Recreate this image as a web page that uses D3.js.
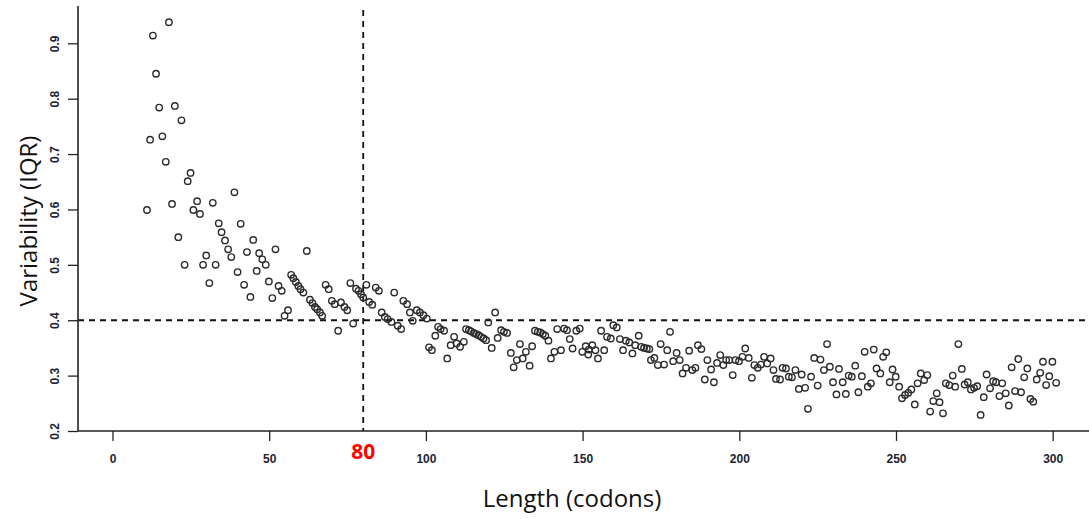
<!DOCTYPE html>
<html>
<head>
<meta charset="utf-8">
<script src="https://cdn.jsdelivr.net/npm/d3@7"></script>
<style>
  html, body { margin: 0; padding: 0; background: #fff; }
  svg { display: block; }
</style>
</head>
<body>
<div id="chart"></div>
<script>
// Length (codons) of each point
const lengths = [
  11.0, 12.0, 12.9, 13.9, 14.9, 15.9, 17.0, 18.0, 19.0, 19.9, 21.0, 22.0, 23.0, 24.0, 24.9, 25.8,
  27.0, 27.9, 28.9, 29.9, 30.9, 32.0, 32.9, 33.9, 34.8, 35.9, 36.9, 37.9, 38.9, 39.9, 40.9, 42.0,
  42.9, 44.0, 44.9, 46.0, 46.8, 47.8, 48.9, 49.9, 51.0, 52.0, 53.0, 54.0, 54.9, 56.0, 57.0, 57.7,
  58.5, 59.3, 60.0, 60.9, 62.0, 63.0, 63.8, 64.6, 65.3, 66.2, 66.9, 68.0, 69.0, 70.0, 70.9, 72.0,
  72.9, 74.0, 74.9, 75.9, 76.8, 77.7, 78.5, 79.3, 80.0, 81.0, 81.9, 82.9, 84.0, 85.0, 85.9, 86.9,
  87.8, 89.0, 89.9, 91.0, 92.1, 92.8, 94.0, 94.9, 95.8, 97.1, 98.1, 99.2, 100.3, 101.0, 101.9, 103.0,
  103.9, 104.7, 105.8, 106.8, 107.9, 109.0, 109.8, 110.9, 112.1, 112.8, 113.7, 114.4, 115.3, 116.0, 116.8, 117.6,
  118.4, 119.2, 119.9, 121.0, 122.1, 122.9, 124.0, 124.9, 125.9, 127.1, 128.0, 129.0, 130.0, 130.9, 131.9, 133.1,
  133.9, 134.8, 135.7, 136.5, 137.3, 138.1, 139.1, 139.9, 141.0, 141.9, 143.1, 144.1, 145.0, 145.9, 146.8, 148.0,
  149.1, 149.9, 151.0, 151.8, 152.0, 153.1, 154.1, 154.9, 155.9, 156.9, 157.8, 159.0, 159.8, 160.9, 161.9, 162.9,
  163.8, 164.9, 165.9, 166.8, 167.9, 168.7, 169.6, 170.5, 171.3, 171.8, 172.9, 174.0, 174.9, 176.0, 177.0, 177.9,
  178.9, 180.0, 181.0, 181.9, 183.0, 184.0, 185.0, 186.0, 186.8, 187.9, 189.0, 189.8, 191.0, 191.9, 192.9, 193.9,
  194.9, 195.8, 196.8, 197.9, 198.8, 199.9, 201.0, 201.9, 203.0, 204.0, 204.8, 205.9, 206.9, 207.9, 208.9, 210.0,
  210.9, 211.7, 213.0, 213.8, 214.9, 215.8, 216.8, 217.9, 219.0, 219.9, 221.0, 221.9, 222.9, 223.9, 225.0, 225.9,
  227.0, 228.0, 228.9, 229.9, 231.0, 231.8, 233.0, 234.0, 234.9, 235.9, 237.0, 238.0, 239.1, 240.0, 241.0, 242.0,
  242.9, 243.8, 245.0, 245.9, 246.9, 248.0, 248.9, 249.9, 251.0, 251.9, 252.9, 253.9, 254.9, 256.0, 256.9, 257.9,
  259.0, 260.0, 260.9, 261.9, 263.0, 263.9, 265.0, 265.9, 267.0, 268.1, 268.9, 269.9, 271.0, 271.9, 272.9, 273.9,
  274.9, 275.9, 277.0, 278.0, 278.9, 280.0, 281.0, 281.9, 283.0, 283.9, 285.0, 286.0, 286.9, 288.0, 289.0, 289.9,
  290.9, 291.9, 292.9, 293.8, 294.9, 296.0, 296.9, 297.9, 298.9, 299.9, 301.1
];

// Variability (IQR) of each point, same order
const iqr = [
  0.599, 0.726, 0.914, 0.845, 0.784, 0.732, 0.686, 0.938, 0.610, 0.787, 0.550, 0.761, 0.500, 0.651, 0.666, 0.599,
  0.615, 0.592, 0.500, 0.517, 0.467, 0.612, 0.500, 0.575, 0.559, 0.544, 0.528, 0.514, 0.631, 0.487, 0.574, 0.464,
  0.523, 0.442, 0.545, 0.489, 0.521, 0.510, 0.500, 0.470, 0.440, 0.528, 0.462, 0.453, 0.408, 0.418, 0.482, 0.476,
  0.469, 0.462, 0.456, 0.450, 0.525, 0.437, 0.431, 0.424, 0.420, 0.414, 0.408, 0.464, 0.456, 0.435, 0.429, 0.381,
  0.432, 0.424, 0.418, 0.467, 0.394, 0.457, 0.453, 0.447, 0.441, 0.464, 0.433, 0.428, 0.459, 0.453, 0.414, 0.406,
  0.402, 0.397, 0.450, 0.390, 0.384, 0.435, 0.429, 0.414, 0.399, 0.418, 0.414, 0.409, 0.403, 0.351, 0.346, 0.372,
  0.388, 0.384, 0.381, 0.331, 0.355, 0.370, 0.358, 0.352, 0.361, 0.384, 0.382, 0.380, 0.377, 0.375, 0.373, 0.370,
  0.367, 0.364, 0.396, 0.350, 0.414, 0.368, 0.382, 0.379, 0.377, 0.341, 0.315, 0.328, 0.357, 0.331, 0.343, 0.318,
  0.353, 0.381, 0.379, 0.378, 0.375, 0.372, 0.363, 0.331, 0.343, 0.384, 0.346, 0.385, 0.382, 0.366, 0.349, 0.381,
  0.385, 0.343, 0.353, 0.338, 0.347, 0.355, 0.346, 0.331, 0.381, 0.346, 0.370, 0.367, 0.391, 0.387, 0.366, 0.346,
  0.363, 0.360, 0.340, 0.355, 0.372, 0.352, 0.350, 0.349, 0.348, 0.328, 0.332, 0.319, 0.357, 0.320, 0.346, 0.379,
  0.326, 0.341, 0.328, 0.304, 0.314, 0.345, 0.310, 0.314, 0.355, 0.348, 0.293, 0.328, 0.311, 0.288, 0.323, 0.337,
  0.319, 0.328, 0.328, 0.301, 0.328, 0.326, 0.334, 0.349, 0.332, 0.296, 0.319, 0.314, 0.320, 0.334, 0.322, 0.331,
  0.310, 0.294, 0.293, 0.314, 0.313, 0.298, 0.297, 0.310, 0.276, 0.302, 0.278, 0.240, 0.298, 0.332, 0.282, 0.329,
  0.310, 0.357, 0.316, 0.288, 0.266, 0.312, 0.288, 0.267, 0.300, 0.298, 0.318, 0.270, 0.299, 0.343, 0.280, 0.286,
  0.347, 0.313, 0.304, 0.334, 0.342, 0.288, 0.311, 0.298, 0.280, 0.259, 0.265, 0.269, 0.275, 0.248, 0.286, 0.304,
  0.292, 0.301, 0.235, 0.254, 0.268, 0.252, 0.232, 0.286, 0.283, 0.300, 0.280, 0.357, 0.312, 0.284, 0.288, 0.275,
  0.278, 0.281, 0.229, 0.261, 0.302, 0.277, 0.290, 0.288, 0.263, 0.286, 0.268, 0.246, 0.315, 0.272, 0.330, 0.270,
  0.297, 0.313, 0.258, 0.253, 0.293, 0.305, 0.325, 0.283, 0.299, 0.325, 0.287
];

const xTicks = [0, 50, 100, 150, 200, 250, 300];
const yTicks = [0.2, 0.3, 0.4, 0.5, 0.6, 0.7, 0.8, 0.9];
const cutoffLength = 80;
const cutoffIqr = 0.4;

const width = 1089, height = 519;
const plot = { left: 78, right: 1089, top: 6, bottom: 431 };

const svg = d3.select("#chart").append("svg")
    .attr("width", width)
    .attr("height", height);

const x = d3.scaleLinear().domain([0, 300]).range([112.5, 1052.7]);
const y = d3.scaleLinear().domain([0.2, 0.9]).range([431, 43.3]);

// threshold lines (dashed)
svg.append("line")
    .attr("x1", x(cutoffLength)).attr("x2", x(cutoffLength))
    .attr("y1", 10).attr("y2", plot.bottom)
    .attr("stroke", "#111").attr("stroke-width", 1.8)
    .attr("stroke-dasharray", "6,5");

svg.append("line")
    .attr("x1", plot.left).attr("x2", plot.right)
    .attr("y1", y(cutoffIqr)).attr("y2", y(cutoffIqr))
    .attr("stroke", "#111").attr("stroke-width", 1.8)
    .attr("stroke-dasharray", "6,5");

// points
svg.append("g")
  .selectAll("circle")
  .data(d3.zip(lengths, iqr))
  .join("circle")
    .attr("cx", d => x(d[0]))
    .attr("cy", d => y(d[1]))
    .attr("r", 3.2)
    .attr("fill", "none")
    .attr("stroke", "#2b2b2b")
    .attr("stroke-width", 1.4);

// axes
const tickFont = "'Liberation Sans Narrow', 'Liberation Sans', Arial, sans-serif";

const xAxis = svg.append("g")
    .attr("transform", `translate(0,${plot.bottom})`)
    .call(d3.axisBottom(x).tickValues(xTicks).tickSize(10).tickPadding(13));
xAxis.select(".domain").remove();
xAxis.selectAll("line").attr("stroke", "#222").attr("stroke-width", 1.3);
xAxis.selectAll("text")
    .attr("font-family", tickFont).attr("font-size", 12).attr("font-weight", "bold")
    .attr("fill", "#1c2433");

const yAxis = svg.append("g")
    .attr("transform", `translate(${plot.left},0)`)
    .call(d3.axisLeft(y).tickValues(yTicks).tickSize(10).tickFormat(d3.format(".1f")));
yAxis.select(".domain").remove();
yAxis.selectAll("line").attr("stroke", "#222").attr("stroke-width", 1.3);
yAxis.selectAll("text")
    .attr("font-family", tickFont).attr("font-size", 12).attr("font-weight", "bold")
    .attr("fill", "#1c2433")
    .attr("x", 0).attr("dy", null)
    .attr("text-anchor", "middle")
    .attr("transform", "translate(-23,0) rotate(-90)")
    .attr("dominant-baseline", "central");

// axis lines
svg.append("line")
    .attr("x1", plot.left).attr("x2", plot.left)
    .attr("y1", plot.top).attr("y2", plot.bottom)
    .attr("stroke", "#222").attr("stroke-width", 1.6);
svg.append("line")
    .attr("x1", plot.left).attr("x2", plot.right)
    .attr("y1", plot.bottom).attr("y2", plot.bottom)
    .attr("stroke", "#222").attr("stroke-width", 1.6);

// red 80 marker
svg.append("text")
    .attr("x", x(cutoffLength)).attr("y", 459)
    .attr("text-anchor", "middle")
    .attr("font-family", "'Open Sans', sans-serif")
    .attr("font-size", 21).attr("font-weight", "bold")
    .attr("fill", "#ff0000")
    .text(cutoffLength);

// titles
svg.append("text")
    .attr("x", 572).attr("y", 507)
    .attr("text-anchor", "middle")
    .attr("font-family", "'Open Sans', sans-serif")
    .attr("font-size", 24)
    .attr("fill", "#111")
    .text("Length (codons)");

svg.append("text")
    .attr("transform", "translate(37,221) rotate(-90)")
    .attr("text-anchor", "middle")
    .attr("font-family", "'Open Sans', sans-serif")
    .attr("font-size", 24)
    .attr("fill", "#111")
    .text("Variability (IQR)");
</script>
</body>
</html>
